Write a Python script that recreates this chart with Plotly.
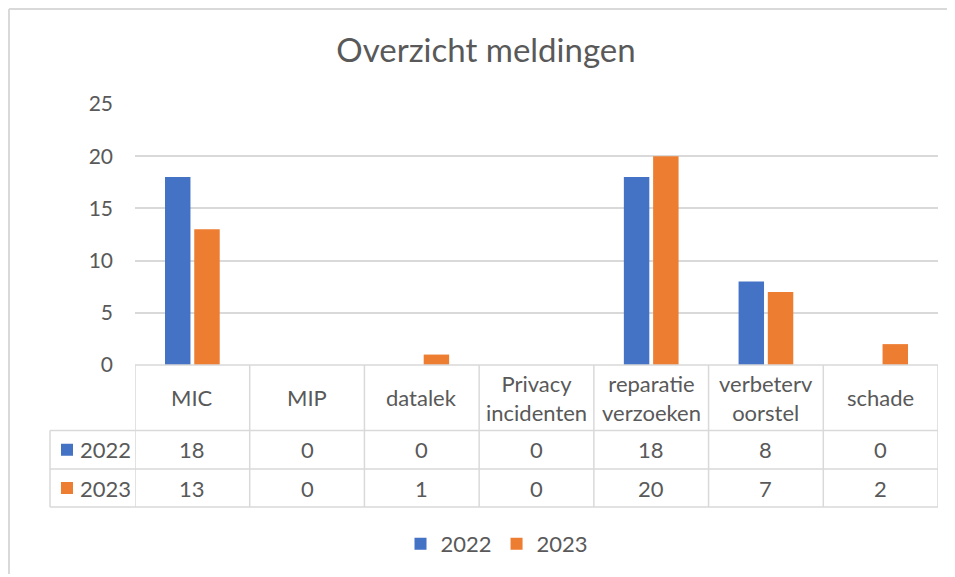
import plotly.graph_objects as go

categories = ["MIC", "MIP", "datalek", "Privacy incidenten", "reparatie verzoeken", "verbetervoorstel", "schade"]
header_labels = ["MIC", "MIP", "datalek", "Privacy<br>incidenten", "reparatie<br>verzoeken", "verbeterv<br>oorstel", "schade"]
series_names = ["2022", "2023"]
values_2022 = [18, 0, 0, 0, 18, 8, 0]
values_2023 = [13, 0, 1, 0, 20, 7, 2]
colors = ["#4472C4", "#ED7D31"]
y_ticks = [0, 5, 10, 15, 20, 25]

OFF = 8  # page body margin
W_FIG, H_FIG = 955 - OFF, 577 - OFF
L, R, T, B = 135 - OFF, 938 - OFF, 104 - OFF, 365 - OFF
PW, PH = R - L, B - T
FONT = "Lato"
TXT = "#595959"
GRID = "#d9d9d9"


def px_x(p):
    return (p - OFF - L) / PW


def px_y(p):
    return (B - (p - OFF)) / PH


fig = go.Figure()
for name, vals, col in zip(series_names, [values_2022, values_2023], colors):
    fig.add_trace(go.Bar(x=categories, y=vals, name=name, marker=dict(color=col, line=dict(width=0))))

shapes = []
annotations = []

row_top, row_h1, row_h2, row_bot = 365, 430.5, 469, 507
left_edge = 50
lw = 1.5
FS = 22

shapes.append(dict(type="line", xref="x", yref="paper", x0=-0.5, x1=len(categories) - 0.5,
                   y0=px_y(row_top), y1=px_y(row_top), line=dict(color=GRID, width=lw)))
for yy in [row_h1, row_h2, row_bot]:
    shapes.append(dict(type="line", xref="paper", yref="paper", x0=px_x(left_edge), x1=1,
                       y0=px_y(yy), y1=px_y(yy), line=dict(color=GRID, width=lw)))
for i in range(len(categories) + 1):
    shapes.append(dict(type="line", xref="x", yref="paper", x0=i - 0.5, x1=i - 0.5,
                       y0=px_y(row_top), y1=px_y(row_bot), line=dict(color=GRID, width=lw)))
shapes.append(dict(type="line", xref="paper", yref="paper", x0=px_x(left_edge), x1=px_x(left_edge),
                   y0=px_y(row_h1), y1=px_y(row_bot), line=dict(color=GRID, width=lw)))

for i, lab in enumerate(header_labels):
    annotations.append(dict(x=i, xref="x", y=px_y((row_top + row_h1) / 2), yref="paper",
                            text=lab, showarrow=False, xanchor="center", yanchor="middle",
                            font=dict(family=FONT, size=FS, color=TXT)))

row_centers = [(row_h1 + row_h2) / 2, (row_h2 + row_bot) / 2]
for rc, name, vals, col in zip(row_centers, series_names, [values_2022, values_2023], colors):
    for i, v in enumerate(vals):
        annotations.append(dict(x=i, xref="x", y=px_y(rc), yref="paper", text=str(v), showarrow=False,
                                xanchor="center", yanchor="middle",
                                font=dict(family=FONT, size=FS, color=TXT)))
    shapes.append(dict(type="rect", xref="paper", yref="paper", x0=px_x(61), x1=px_x(73),
                       y0=px_y(rc - 6), y1=px_y(rc + 6), fillcolor=col, line=dict(width=0)))
    annotations.append(dict(x=px_x(78), xref="paper", y=px_y(rc), yref="paper", text=name, showarrow=False,
                            xanchor="left", yanchor="middle",
                            font=dict(family=FONT, size=FS, color=TXT)))

# chart area border (left and top edges visible)
shapes.append(dict(type="line", xref="paper", yref="paper", x0=px_x(9), x1=px_x(952),
                   y0=px_y(9), y1=px_y(9), line=dict(color=GRID, width=2)))
shapes.append(dict(type="line", xref="paper", yref="paper", x0=px_x(9), x1=px_x(9),
                   y0=px_y(9), y1=px_y(574), line=dict(color=GRID, width=2)))

fig.update_layout(
    width=W_FIG, height=H_FIG,
    margin=dict(l=L, r=W_FIG - R, t=T, b=H_FIG - B, pad=0),
    paper_bgcolor="white", plot_bgcolor="white",
    title=dict(text="Overzicht meldingen", x=(486 - OFF) / W_FIG, xanchor="center", xref="container",
               y=1 - (50 - OFF) / H_FIG, yanchor="middle", yref="container",
               font=dict(family=FONT, size=33, color=TXT)),
    barmode="group", bargap=0.49, bargroupgap=0.13,
    xaxis=dict(showticklabels=False, showgrid=False, zeroline=False, showline=False, ticks="",
               range=[-0.5, len(categories) - 0.5]),
    yaxis=dict(range=[0, 25], tickvals=y_ticks, showgrid=True, gridcolor=GRID, gridwidth=1.5,
               zeroline=False, showline=False, ticks="", ticklabelstandoff=21,
               tickfont=dict(family=FONT, size=21, color=TXT)),
    legend=dict(orientation="h", x=px_x(497), xanchor="center", y=px_y(544), yanchor="middle",
                font=dict(family=FONT, size=FS, color=TXT), itemwidth=30, traceorder="normal"),
    shapes=shapes, annotations=annotations,
    font=dict(family=FONT, color=TXT),
)

fig.write_html("out.html")
